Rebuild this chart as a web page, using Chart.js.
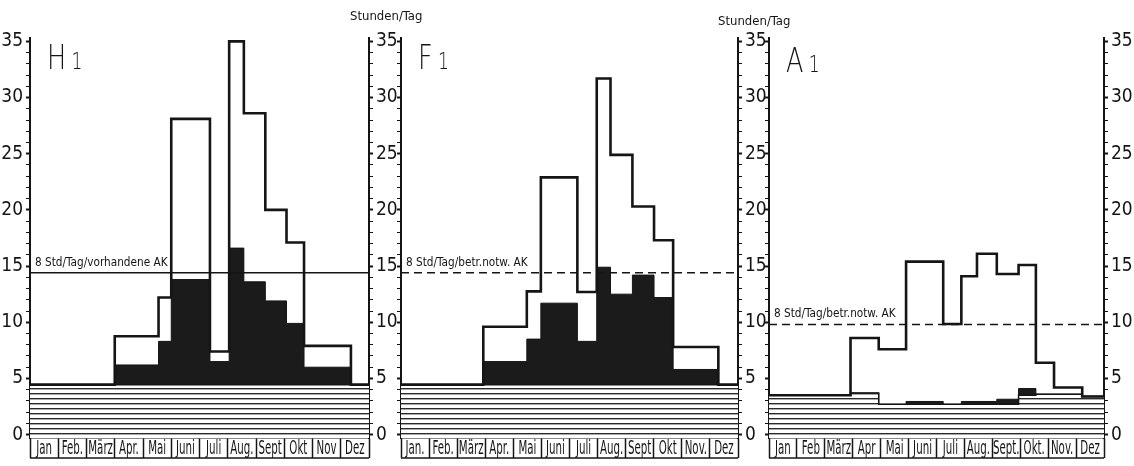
<!DOCTYPE html>
<html>
<head>
<meta charset="utf-8">
<script src="https://cdn.jsdelivr.net/npm/chart.js@4.4.0/dist/chart.umd.min.js"></script>
<style>
  body { margin: 0; background: #fff; }
  #wrap { position: relative; width: 1134px; height: 466px; overflow: hidden; background: #fff; }
  canvas { position: absolute; left: 0; top: 0; }
  .txt { position: absolute; font-family: 'DejaVu Sans Condensed', 'DejaVu Sans', sans-serif; color: #151515; white-space: nowrap; }
  .panel { font-family: 'DejaVu Sans', sans-serif; font-size: 34px; line-height: 34px; font-weight: 200; transform: scaleX(0.75); transform-origin: left top; }
  .panel span { font-size: 23px; margin-left: 7px; }
  .unit { font-size: 13px; line-height: 13px; }
</style>
</head>
<body>
<div id="wrap">
  <canvas id="c1" width="1134" height="466"></canvas>
  <canvas id="c2" width="1134" height="466"></canvas>
  <canvas id="c3" width="1134" height="466"></canvas>
  <div class="txt panel" style="left:47px;top:40px">H<span>1</span></div>
  <div class="txt panel" style="left:418px;top:40px">F<span>1</span></div>
  <div class="txt panel" style="left:786px;top:43px">A<span>1</span></div>
  <div class="txt unit" style="left:350px;top:9px">Stunden/Tag</div>
  <div class="txt unit" style="left:718px;top:14px">Stunden/Tag</div>
</div>
<script>
// month labels per panel
var monthsH = ["Jan", "Feb.", "März", "Apr.", "Mai", "Juni", "Juli", "Aug.", "Sept", "Okt", "Nov", "Dez"];
var monthsF = ["Jan.", "Feb.", "März", "Apr.", "Mai", "Juni", "Juli", "Aug.", "Sept", "Okt", "Nov.", "Dez"];
var monthsA = ["Jan", "Feb", "März", "Apr", "Mai", "Juni", "Juli", "Aug.", "Sept.", "Okt.", "Nov.", "Dez"];
var yTickLabels = [0, 5, 10, 15, 20, 25, 30, 35];

// H1: step edges (in months from Jan 1) and levels in Stunden/Tag
var h1Edges = [0, 3, 4.55, 5, 6.37, 7.05, 7.57, 8.33, 9.08, 9.7, 11.36];
var h1Total = [4.45, 8.75, 12.2, 28.1, 7.4, 35.0, 28.6, 20.0, 17.1, 7.9, 4.45];
var h1Dark  = [4.45, 6.2, 8.3, 13.8, 6.5, 16.6, 13.6, 11.9, 9.9, 6.0, 4.45];
var h1Base  = [4.45, 4.45, 4.45, 4.45, 4.45, 4.45, 4.45, 4.45, 4.45, 4.45, 4.45];
var h1Ak = 14.4;

// F1
var f1Edges = [0, 2.93, 4.48, 4.98, 6.28, 6.97, 7.46, 8.24, 9.01, 9.69, 11.3];
var f1Total = [4.45, 9.6, 12.75, 22.9, 12.7, 31.7, 24.9, 20.3, 17.3, 7.8, 4.45];
var f1Dark  = [4.45, 6.5, 8.5, 11.7, 8.3, 14.9, 12.5, 14.2, 12.2, 5.8, 4.45];
var f1Base  = [4.45, 4.45, 4.45, 4.45, 4.45, 4.45, 4.45, 4.45, 4.45, 4.45, 4.45];
var f1Ak = 14.4;

// A1
var a1Edges = [0, 2.92, 3.93, 4.91, 6.24, 6.89, 7.45, 8.16, 8.94, 9.56, 10.21, 11.22];
var a1Total = [3.5, 8.6, 7.6, 15.4, 9.85, 14.1, 16.1, 14.3, 15.1, 6.4, 4.2, 3.4];
var a1Dark  = [3.5, 3.7, 2.7, 2.95, 2.7, 2.95, 2.95, 3.15, 4.1, 3.6, 3.6, 3.4];
var a1Base  = [3.5, 3.7, 2.7, 2.7, 2.7, 2.7, 2.7, 2.7, 3.5, 3.6, 3.6, 3.4];
var a1Ak = 9.8;

var INK = '#151515';
var FONT = "'DejaVu Sans Condensed', 'DejaVu Sans', sans-serif";
Chart.defaults.font.family = FONT;
Chart.defaults.color = INK;

function steps(edges, levels) {
  var pts = [];
  for (var i = 0; i < edges.length; i++) pts.push({x: edges[i], y: levels[i]});
  pts.push({x: 12, y: levels[levels.length - 1]});
  return pts;
}

function hatch() {
  var c = document.createElement('canvas');
  c.width = 8; c.height = 5;
  var g = c.getContext('2d');
  g.fillStyle = '#fff';
  g.fillRect(0, 0, 8, 5);
  g.fillStyle = '#2a2a2a';
  g.fillRect(0, 3, 8, 1.4);
  return g.createPattern(c, 'repeat');
}

// month boxes + narrow month names under the plot, label of the AK line
var boxPlugin = {
  id: 'boxes',
  afterDraw: function(chart, args, opts) {
    var ctx = chart.ctx, x = chart.scales.x, y = chart.scales.y;
    var bottom = chart.chartArea.bottom;
    ctx.save();
    ctx.strokeStyle = INK;
    ctx.lineWidth = 1.5;
    ctx.beginPath();
    ctx.moveTo(x.left, bottom + 20);
    ctx.lineTo(x.right, bottom + 20);
    ctx.stroke();
    ctx.fillStyle = INK;
    ctx.font = "19px " + FONT;
    ctx.textAlign = 'center';
    ctx.textBaseline = 'middle';
    for (var i = 0; i < opts.months.length; i++) {
      ctx.save();
      ctx.translate(x.getPixelForValue(i + 0.5), bottom + 11);
      ctx.scale(0.6, 1);
      ctx.fillText(opts.months[i], 0, 0);
      ctx.restore();
    }
    ctx.font = "13px " + FONT;
    ctx.textAlign = 'left';
    ctx.textBaseline = 'bottom';
    ctx.translate(x.getPixelForValue(0) + 5, y.getPixelForValue(opts.level) - 4);
    ctx.scale(0.9, 1);
    ctx.fillText(opts.text, 0, 0);
    ctx.restore();
  }
};

function yAxis(pos, width, showLabels) {
  return {
    position: pos,
    min: -0.3,
    max: 35.3,
    ticks: {
      display: showLabels,
      stepSize: 1,
      includeBounds: false,
      autoSkip: false,
      padding: 3,
      font: {size: 19},
      callback: function(v) { return yTickLabels.indexOf(v) >= 0 ? String(v) : ''; }
    },
    grid: {
      drawOnChartArea: false,
      tickLength: 4,
      tickColor: INK,
      tickWidth: function(c) { return c.tick && c.tick.value % 5 === 0 ? 2 : 1; }
    },
    border: {display: true, color: INK, width: 2},
    afterFit: function(s) { s.width = width; }
  };
}

function makePanel(id, months, edges, base, dark, total, ak, akText, dashed, lay) {
  var boundary = function(c) { return c.tick && c.tick.value % 1 === 0 ? INK : 'rgba(0,0,0,0)'; };
  new Chart(document.getElementById(id), {
    type: 'line',
    data: {
      datasets: [
        {
          label: 'AK',
          data: [{x: 0, y: ak}, {x: 12, y: ak}],
          borderColor: INK,
          borderWidth: 1.5,
          borderDash: dashed ? [8, 5] : [],
          pointRadius: 0,
          fill: false
        },
        {
          label: 'gesamt',
          data: steps(edges, total),
          stepped: true,
          borderColor: INK,
          borderWidth: 2.6,
          pointRadius: 0,
          fill: false
        },
        {
          label: 'Grundlast',
          data: steps(edges, base),
          stepped: true,
          borderColor: INK,
          borderWidth: 1.5,
          backgroundColor: hatch(),
          pointRadius: 0,
          fill: 'start'
        },
        {
          label: 'Spitze',
          data: steps(edges, dark),
          stepped: true,
          borderColor: INK,
          borderWidth: 1,
          backgroundColor: '#1b1b1b',
          pointRadius: 0,
          fill: 'start'
        }
      ]
    },
    options: {
      responsive: false,
      animation: false,
      devicePixelRatio: 1,
      layout: {padding: {left: lay.padLeft, right: lay.padRight, top: 38, bottom: 6}},
      plugins: {
        legend: {display: false},
        tooltip: {enabled: false},
        boxes: {text: akText, level: ak, months: months}
      },
      scales: {
        x: {
          type: 'linear',
          min: 0,
          max: 12,
          ticks: {
            stepSize: 0.5,
            autoSkip: false,
            maxRotation: 0,
            callback: function() { return ''; }
          },
          grid: {drawOnChartArea: false, tickLength: 20, color: boundary, tickColor: boundary, tickWidth: 1.5},
          border: {display: true, color: INK, width: 1.5},
          afterFit: function(s) { s.height = 22; }
        },
        y: yAxis('left', lay.leftW, lay.leftLabels),
        y2: yAxis('right', lay.rightW, true)
      }
    },
    plugins: [boxPlugin]
  });
}

makePanel('c1', monthsH, h1Edges, h1Base, h1Dark, h1Total, h1Ak, '8 Std/Tag/vorhandene AK', false,
  {padLeft: 0, padRight: 734, leftW: 30, rightW: 31, leftLabels: true});
makePanel('c2', monthsF, f1Edges, f1Base, f1Dark, f1Total, f1Ak, '8 Std/Tag/betr.notw. AK', true,
  {padLeft: 393, padRight: 366, leftW: 8, rightW: 30, leftLabels: false});
makePanel('c3', monthsA, a1Edges, a1Base, a1Dark, a1Total, a1Ak, '8 Std/Tag/betr.notw. AK', true,
  {padLeft: 761, padRight: 0, leftW: 8, rightW: 30, leftLabels: false});
</script>
</body>
</html>
